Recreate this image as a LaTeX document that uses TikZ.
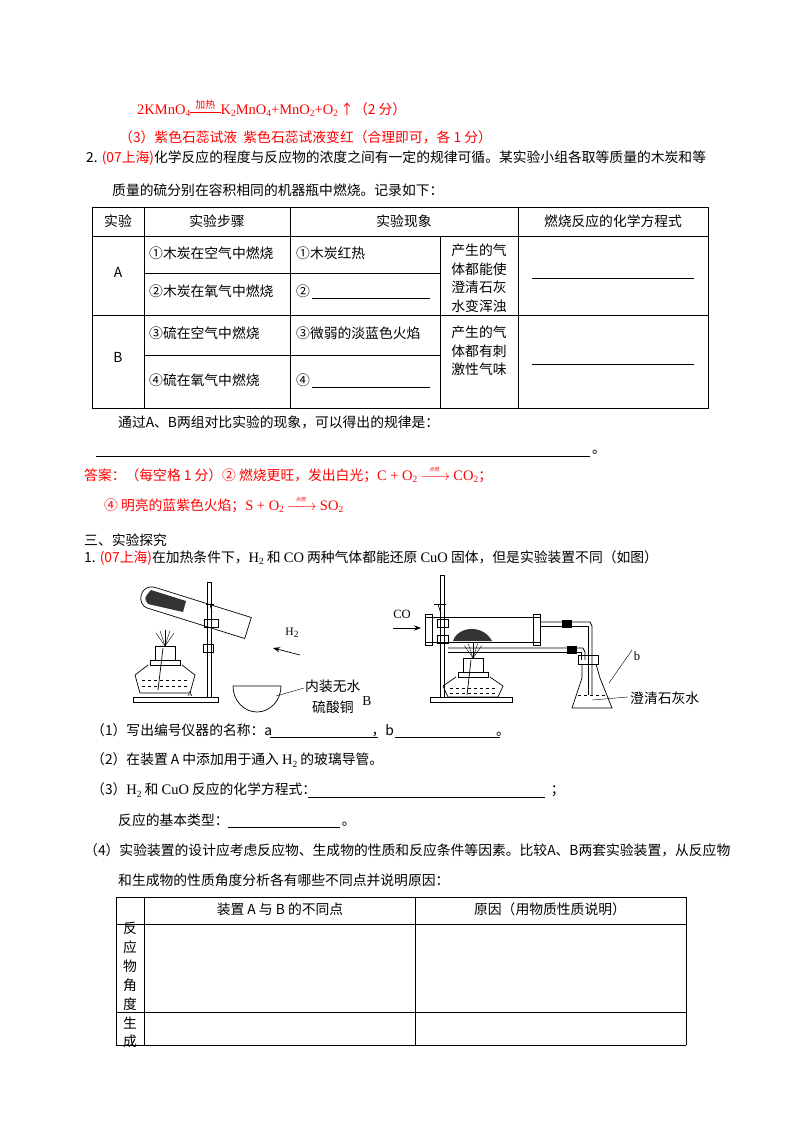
\documentclass[tikz,border=0pt]{standalone}
\usepackage{amsmath}
\usepackage{fontspec}
\setmainfont{Noto Sans CJK SC}
\newfontfamily\lat{Liberation Serif}[Scale=1.05]
\newcommand\dn[1]{\raisebox{-0.35ex}{\fontsize{9}{9}\selectfont #1}}
\newcommand\dianran{$\xrightarrow[\hspace{1.6em}]{\raisebox{1pt}{\text{\fontsize{5}{5}\selectfont 点燃}}}$}
\usetikzlibrary{arrows.meta}
\begin{document}
\begin{tikzpicture}[x=1pt,y=-1pt,
  txt/.style={anchor=west,inner sep=0pt,font=\fontsize{13.8}{16}\selectfont},
  red/.style={text=red},
  cell/.style={inner sep=0pt,font=\fontsize{13.8}{16}\selectfont},
  tb/.style={line width=0.8pt},
  app/.style={line width=0.7pt}]
\useasboundingbox (0,0) rectangle (800,1132);
\fill[white] (0,0) rectangle (800,1132);
% top answer lines
\node[txt,red] (l1) at (137,108) {{\lat 2KMnO\dn{4}}$\stackrel{\text{\fontsize{10}{10}\selectfont 加热}}{\overline{\hspace{2.2em}}}${\lat K\dn{2}MnO\dn{4}+MnO\dn{2}+O\dn{2}}\,↑（2 分）};
\node[txt,red] (l2) at (119,137) {（3）紫色石蕊试液\ \ 紫色石蕊试液变红（合理即可，各 1 分）};
\node[txt] (l3) at (86,158) {2. \textcolor{red}{(07上海)}化学反应的程度与反应物的浓度之间有一定的规律可循。某实验小组各取等质量的木炭和等};
\node[txt] (l4) at (112,190) {质量的硫分别在容积相同的机器瓶中燃烧。记录如下：};
% table 1
\draw[tb] (92,207) rectangle (708,408);
\draw[tb] (92,236) -- (708,236);
\draw[tb] (92,315) -- (708,315);
\draw[tb] (144,273) -- (440,273);
\draw[tb] (144,355) -- (440,355);
\draw[tb] (144,207) -- (144,408);
\draw[tb] (290,207) -- (290,408);
\draw[tb] (440,236) -- (440,408);
\draw[tb] (518,207) -- (518,408);
\node[cell] (h1) at (118,221) {实验};
\node[cell] (h2) at (217,221) {实验步骤};
\node[cell] (h3) at (404,221) {实验现象};
\node[cell] (h4) at (613,221) {燃烧反应的化学方程式};
\node[cell] (ca) at (118,272) {A};
\node[cell] (cb) at (118,357) {B};
\node[txt] (s1) at (149,253) {①木炭在空气中燃烧};
\node[txt] (s2) at (149,291) {②木炭在氧气中燃烧};
\node[txt] (s3) at (149,333) {③硫在空气中燃烧};
\node[txt] (s4) at (149,380) {④硫在氧气中燃烧};
\node[txt] (p1) at (296,253) {①木炭红热};
\node[txt] (p2) at (296,291) {②};
\draw (312,298) -- (430,298);
\node[txt] (p3) at (296,333) {③微弱的淡蓝色火焰};
\node[txt] (p4) at (296,380) {④};
\draw (312,387) -- (430,387);
\node[cell,align=left,font=\fontsize{13.8}{18.5}\selectfont] (ra) at (479,278) {产生的气\\体都能使\\澄清石灰\\水变浑浊};
\node[cell,align=left,font=\fontsize{13.8}{18.5}\selectfont] (rb) at (479,351) {产生的气\\体都有刺\\激性气味};
\draw (532,278) -- (694,278);
\draw (532,364) -- (694,364);
\node[txt] (l5) at (118,422) {通过A、B两组对比实验的现象，可以得出的规律是：};
\draw (96,456) -- (590,456);
\node[txt] (dot) at (592,452) {。};
\node[txt,red] (l6) at (84,478) {答案：（每空格 1 分）②\ 燃烧更旺，发出白光；{\lat C + O\dn{2}}\ \dianran\ {\lat CO\dn{2}}；};
\node[txt,red] (l7) at (104,508) {④\ 明亮的蓝紫色火焰；{\lat S + O\dn{2}}\ \dianran\ {\lat SO\dn{2}}};
\node[txt] (l8) at (84,540) {三、实验探究};
\node[txt] (l9) at (84,558) {1. \textcolor{red}{(07上海)}在加热条件下，{\lat H\dn{2}} 和 {\lat CO} 两种气体都能还原 {\lat CuO} 固体，但是实验装置不同（如图）};
% ---- apparatus A
\draw[app] (133,697) rectangle (218,702);
\draw[app] (207,582) rectangle (211,697);
\fill[black!80] (151,590) -- (186,601) -- (183,612) -- (148,604) .. controls (144,598) .. cycle;
\draw[app] (251.3,617.5) -- (155.3,587.5) .. controls (140,583) and (135,605) .. (148.7,608.5) -- (244.7,638.5) -- cycle;
\draw[app] (204,619) rectangle (218,627);
\draw[app] (203,644) rectangle (213,652);
\draw[app] (210,604) -- (212,612);\draw[app] (206,604) -- (214,604);
\foreach \a in {-35,-18,0,18,35}{\draw (165,646) -- ++(270+\a:16);}
\draw[app] (155,646) rectangle (175,660);
\draw[app] (150,660) rectangle (180,665);
\draw[app] (148,665) -- (135,675) -- (140,693) -- (190,693) -- (195,675) -- (182,665);
\foreach \y in {680,686}{\draw[dashed,app] (142,\y) -- (188,\y);}
\draw[app] (163,648) -- (158,690);
\node[inner sep=0pt,font=\fontsize{7}{7}\selectfont\lat] (la) at (190,694) {A};
\draw[-{Stealth[length=7pt]},app] (300,655) -- (273,648);
\node[inner sep=0pt,font=\fontsize{11}{11}\selectfont\lat] (h2) at (292,633) {H\dn{2}};
\draw[app] (233,686) -- (281,686) arc (0:180:24 and 26);
\node[txt] (nz) at (305,686) {内装无水};
\node[txt] (ls) at (312,707) {硫酸铜};
\draw (276,696) -- (304,688);
\node[inner sep=0pt,font=\fontsize{13}{13}\selectfont\lat] (bb) at (367,701) {B};
% ---- apparatus B
\draw[app] (430,697) rectangle (512,702);
\draw[app] (440,575) rectangle (444,697);
\draw[app] (425,617) rectangle (540,642);
\draw[app] (425,614) rectangle (432,645);\draw[app] (533,614) rectangle (540,645);
\draw[app] (437,619) rectangle (448,627);
\draw[app] (437,635) rectangle (448,643);
\draw[app] (438,604) -- (441,614);\draw[app] (434,604) -- (446,604);
\fill[black!80] (453,641) .. controls (458,626) and (483,624) .. (492,641) -- cycle;
\draw[-{Stealth[length=7pt]},app] (393,628) -- (421,628);
\node[inner sep=0pt,font=\fontsize{12}{12}\selectfont\lat] (co) at (402,614) {CO};
\draw[app] (540,622) -- (590,622) -- (592,626) -- (592,695);
\draw[app] (540,626) -- (588,626) -- (588,695);
\draw[app] (448,648) -- (583,648) -- (585,652) -- (585,660);
\draw[app] (448,652) -- (581,652) -- (581,660);
\fill (562,620) rectangle (572,628);\fill (567,646) rectangle (577,654);
\foreach \a in {-35,-18,0,18,35}{\draw (473,658) -- ++(270+\a:15);}
\draw[app] (463,658) rectangle (483,672);
\draw[app] (458,672) rectangle (488,677);
\draw[app] (456,677) -- (443,686) -- (448,697) -- (498,697) -- (503,686) -- (490,677);
\foreach \y in {688,693}{\draw[dashed,app] (450,\y) -- (496,\y);}
\draw[app] (471,660) -- (467,695);
\draw[app] (578,655) rectangle (598,664);
\draw[app] (582,664) -- (582,678) -- (572,708) -- (612,708) -- (600,678) -- (596,664);
\draw[dashed] (578,695) -- (606,695);
\draw (609,683) -- (632,650);
\node[inner sep=0pt,font=\fontsize{12}{12}\selectfont\lat] (lb) at (637,656) {b};
\draw (592,700) -- (628,697);
\node[txt] (cq) at (630,698) {澄清石灰水};
% questions
\node[txt] (q1) at (91,730) {（1）写出编号仪器的名称：a\hspace{7.2em}，b\hspace{7.4em}。};
\draw (270,737) -- (378,737);\draw (395,737) -- (500,737);
\node[txt] (q2) at (91,760) {（2）在装置 A 中添加用于通入 {\lat H\dn{2}} 的玻璃导管。};
\node[txt] (q3) at (91,790) {（3）{\lat H\dn{2}} 和 {\lat CuO} 反应的化学方程式：\hspace{17em}；};
\draw (308,797) -- (545,797);
\node[txt] (q4) at (118,820) {反应的基本类型：\hspace{8.2em}。};
\draw (228,827) -- (340,827);
\node[txt] (q5) at (84,850) {（4）实验装置的设计应考虑反应物、生成物的性质和反应条件等因素。比较A、B两套实验装置，从反应物};
\node[txt] (q6) at (118,880) {和生成物的性质角度分析各有哪些不同点并说明原因：};
% table 2
\draw[tb] (116,897) -- (686,897) -- (686,1045);
\draw[tb] (116,897) -- (116,1045);
\draw[tb] (116,924) -- (686,924);
\draw[tb] (116,1012) -- (686,1012);
\draw[tb] (116,1045) -- (686,1045);
\draw[tb] (144,897) -- (144,1045);
\draw[tb] (415,897) -- (415,1045);
\node[cell] (t1) at (280,909) {装置 A 与 B 的不同点};
\node[cell] (t2) at (550,909) {原因（用物质性质说明）};
\node[cell,align=center,font=\fontsize{13.8}{19}\selectfont] (t3) at (130,966) {反\\应\\物\\角\\度};
\node[cell,align=center,font=\fontsize{13.8}{18}\selectfont] (t4) at (130,1032) {生\\成};
\end{tikzpicture}
\end{document}
